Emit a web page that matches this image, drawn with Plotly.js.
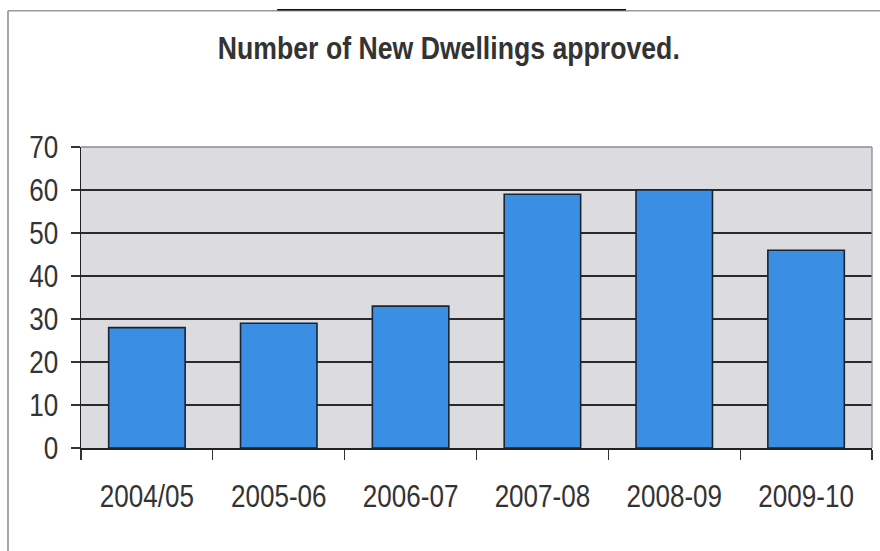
<!DOCTYPE html>
<html>
<head>
<meta charset="utf-8">
<script src="https://cdn.plot.ly/plotly-3.0.1.min.js"></script>
<style>
  html, body { margin: 0; padding: 0; background: #ffffff; }
  #chart { width: 880px; height: 551px; }
</style>
</head>
<body>
<div id="chart"></div>
<script>
// Data
const categories = ["2004/05", "2005-06", "2006-07", "2007-08", "2008-09", "2009-10"];
const dwellings = [28, 29, 33, 59, 60, 46];
const yTickValues = [0, 10, 20, 30, 40, 50, 60, 70];
const chartTitle = "Number of New Dwellings approved.";

const FONT = "'Liberation Sans', Arial, sans-serif";

const trace = {
  type: "bar",
  x: categories,
  y: dwellings,
  marker: {
    color: "#3a8fe4",
    line: { color: "#1b2430", width: 1.6 }
  },
  hoverinfo: "x+y"
};

const layout = {
  width: 880,
  height: 551,
  margin: { l: 81, r: 8, t: 147, b: 103 },
  paper_bgcolor: "#ffffff",
  plot_bgcolor: "#dcdce0",
  showlegend: false,
  bargap: 0.42,
  title: {
    text: "<b>" + chartTitle + "</b>",
    font: { family: FONT, size: 31, color: "#333333" },
    x: 0.51,
    xanchor: "center",
    xref: "container",
    y: 0.912,
    yanchor: "middle",
    yref: "container"
  },
  xaxis: {
    type: "category",
    tickson: "boundaries",
    ticks: "outside",
    ticklen: 10,
    tickwidth: 1.3,
    tickcolor: "#333333",
    showline: true,
    linecolor: "#222222",
    linewidth: 1.5,
    showgrid: false,
    zeroline: false,
    ticklabelstandoff: 20,
    tickfont: { family: FONT, size: 31, color: "#333333" }
  },
  yaxis: {
    range: [0, 70],
    tickvals: yTickValues,
    ticktext: yTickValues.map(String),
    ticks: "outside",
    ticklen: 9,
    tickwidth: 1.3,
    tickcolor: "#333333",
    showline: true,
    linecolor: "#222222",
    linewidth: 1.5,
    showgrid: true,
    gridcolor: "#2a2a2a",
    gridwidth: 1.3,
    zeroline: false,
    ticklabelstandoff: 6,
    tickfont: { family: FONT, size: 31, color: "#333333" }
  },
  shapes: [
    // outer frame of the chart (left and top edges visible)
    { type: "line", xref: "paper", yref: "paper", x0: -0.0923, x1: -0.0923, y0: -0.4, y1: 1.4523,
      line: { color: "#8a8a8a", width: 1.5 } },
    { type: "line", xref: "paper", yref: "paper", x0: -0.0923, x1: 1.05, y0: 1.4523, y1: 1.4523,
      line: { color: "#9a9a9a", width: 1.5 } },
    { type: "line", xref: "paper", yref: "paper", x0: 0.248, x1: 0.689, y0: 1.456, y1: 1.456,
      line: { color: "#111111", width: 1.5 } },
    // plot area top/right border
    { type: "line", xref: "paper", yref: "paper", x0: 0, x1: 1, y0: 1, y1: 1,
      line: { color: "#8c8c8c", width: 1.3 } },
    { type: "line", xref: "paper", yref: "paper", x0: 1, x1: 1, y0: 0, y1: 1,
      line: { color: "#8c8c8c", width: 1.3 } }
  ]
};

// Condense the text horizontally (the reference uses a narrow typeface)
function condense(selector, factor, fixedWidth) {
  document.querySelectorAll(selector).forEach(function (t) {
    const w = t.getComputedTextLength();
    if (w > 0) {
      const target = fixedWidth ? fixedWidth : w * factor;
      t.setAttribute("textLength", target.toFixed(2));
      t.setAttribute("lengthAdjust", "spacingAndGlyphs");
    }
  });
}

Plotly.newPlot("chart", [trace], layout, { displayModeBar: false, staticPlot: true }).then(function () {
  condense("#chart .xtick text", 0.84);
  condense("#chart .ytick text", 0.84);
  condense("#chart .gtitle", 0.86, 462);
});
</script>
</body>
</html>
